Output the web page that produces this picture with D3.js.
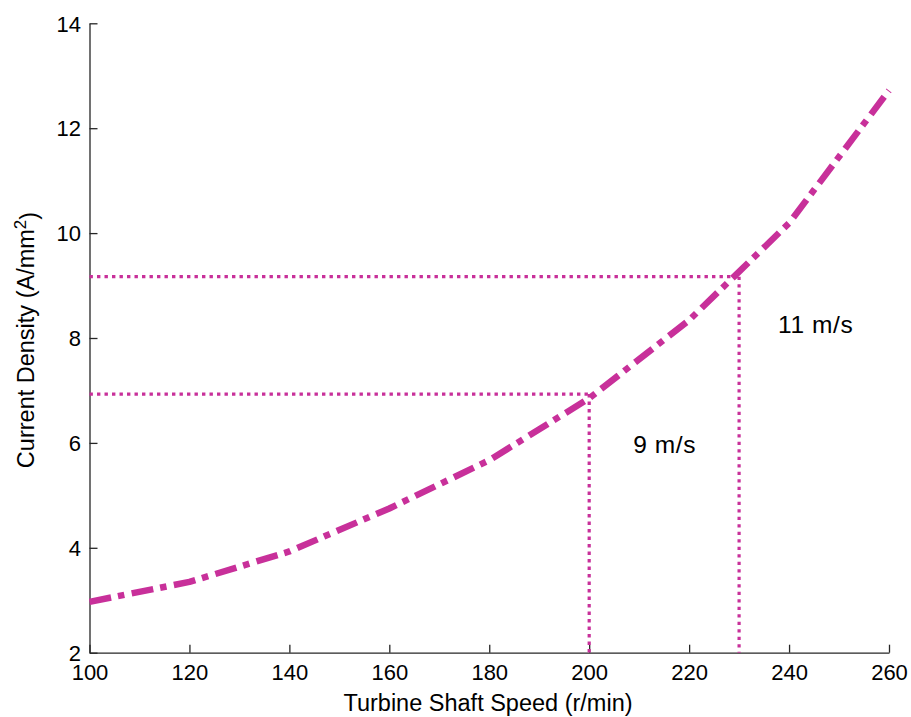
<!DOCTYPE html>
<html>
<head>
<meta charset="utf-8">
<script src="https://cdn.jsdelivr.net/npm/d3@7"></script>
<style>
  html, body { margin: 0; padding: 0; background: #fff; }
  svg { display: block; }
  text { font-family: "Liberation Sans", Arial, sans-serif; fill: #000; }
</style>
</head>
<body>
<svg id="chart" width="911" height="717"></svg>
<script>
// Current density versus turbine shaft speed
const speeds = [100, 120, 140, 160, 180, 200, 220, 240, 260];
const densities = [2.97, 3.35, 3.93, 4.75, 5.67, 6.85, 8.34, 10.19, 12.72];

// Operating points marked with dotted guides
const windLabels = ["9 m/s", "11 m/s"];
const windSpeeds = [200, 230];
const windDensities = [6.93, 9.17];

const xTicks = [100, 120, 140, 160, 180, 200, 220, 240, 260];
const yTicks = [2, 4, 6, 8, 10, 12, 14];

const xTitle = "Turbine Shaft Speed (r/min)";
const yTitle = "Current Density (A/mm";

const color = "#c8309a";
const axisColor = "#262626";

const svg = d3.select("#chart");
const plot = { left: 89.5, right: 889, top: 23.3, bottom: 652.7 };

const x = d3.scaleLinear().domain([100, 260]).range([plot.left, plot.right]);
const y = d3.scaleLinear().domain([2, 14]).range([plot.bottom, plot.top]);

// Axes: ticks point inward, only left and bottom spines
const xAxis = d3.axisBottom(x).tickValues(xTicks).tickSizeInner(-8).tickSizeOuter(0).tickPadding(11.8);
const yAxis = d3.axisLeft(y).tickValues(yTicks).tickSizeInner(-8).tickSizeOuter(0).tickPadding(8.5);

const gx = svg.append("g").attr("transform", `translate(0,${plot.bottom})`).call(xAxis);
const gy = svg.append("g").attr("transform", `translate(${plot.left},0)`).call(yAxis);

[gx, gy].forEach(g => {
  g.select(".domain").attr("stroke", axisColor).attr("stroke-width", 1.3);
  g.selectAll(".tick line").attr("stroke", axisColor).attr("stroke-width", 1.3);
  g.selectAll(".tick text").style("font-family", '"Liberation Sans", Arial, sans-serif')
    .style("font-size", "22px").attr("fill", "#000");
});
gx.selectAll(".tick text").attr("dy", "0.71em");
gy.selectAll(".tick text").attr("dy", "0.35em");

// Dotted guide lines from each operating point to both axes
const guides = svg.append("g");
windSpeeds.forEach((s, i) => {
  const d = windDensities[i];
  guides.append("line")
    .attr("x1", x(100)).attr("x2", x(s))
    .attr("y1", y(d)).attr("y2", y(d));
  guides.append("line")
    .attr("x1", x(s)).attr("x2", x(s))
    .attr("y1", y(d)).attr("y2", y(2));
});
guides.selectAll("line")
  .attr("stroke", color).attr("stroke-width", 3.2)
  .attr("stroke-dasharray", "3.4,4.1");

// Main dash-dot curve
const line = d3.line().x((d, i) => x(speeds[i])).y(d => y(d));
svg.append("path")
  .datum(densities)
  .attr("d", line)
  .attr("fill", "none")
  .attr("stroke", color)
  .attr("stroke-width", 6.5)
  .attr("stroke-linecap", "butt")
  .attr("stroke-linejoin", "round")
  .attr("stroke-dasharray", "22,7,6.5,7.5");

// Operating point labels
const labelPos = [[208.8, 5.80], [237.8, 8.09]];
windLabels.forEach((t, i) => {
  svg.append("text")
    .attr("x", x(labelPos[i][0]))
    .attr("y", y(labelPos[i][1]))
    .style("font-size", "24.5px")
    .style("letter-spacing", "0.6px")
    .text(t);
});

// Axis titles
svg.append("text")
  .attr("x", 488)
  .attr("y", 710.7)
  .attr("text-anchor", "middle")
  .style("font-size", "23.5px")
  .text(xTitle);

const yt = svg.append("text")
  .attr("transform", `translate(34,340) rotate(-90)`)
  .attr("text-anchor", "middle")
  .style("font-size", "23.5px");
yt.append("tspan").text(yTitle);
yt.append("tspan").attr("dy", "-0.5em").style("font-size", "17px").text("2");
yt.append("tspan").attr("dy", "0.5em").text(")");
</script>
</body>
</html>
